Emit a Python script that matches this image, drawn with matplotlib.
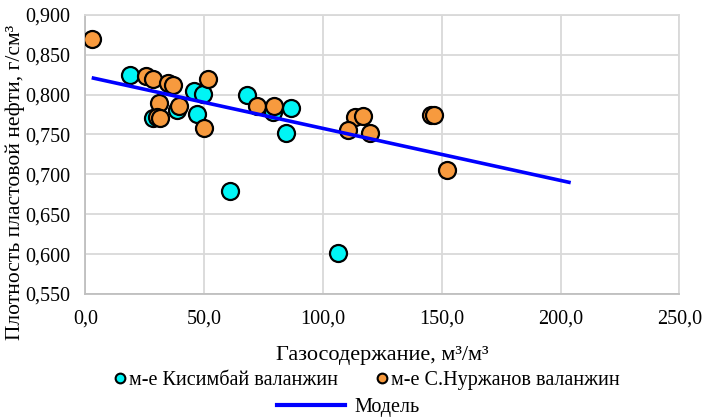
import matplotlib
matplotlib.use("Agg")
import matplotlib.pyplot as plt
from matplotlib.ticker import FuncFormatter, MultipleLocator
from matplotlib.lines import Line2D

plt.rcParams['font.family'] = ['Liberation Serif', 'DejaVu Serif']

# Data
kis_x = [18.9, 28.4, 38.5, 45.9, 49.7, 47.2, 60.9, 67.9, 79.1, 86.4, 84.6, 106.2]
kis_y = [0.824, 0.770, 0.780, 0.804, 0.801, 0.775, 0.679, 0.799, 0.778, 0.783, 0.752, 0.602]

nur_x = [2.9, 25.5, 28.4, 34.9, 37.0, 31.0, 30.3, 31.5, 39.6, 51.8, 50.0,
         72.1, 79.3, 113.5, 117.0, 110.7, 119.8, 145.5, 146.8, 152.4]
nur_y = [0.869, 0.823, 0.819, 0.814, 0.812, 0.789, 0.772, 0.771, 0.786, 0.820, 0.758,
         0.786, 0.786, 0.772, 0.773, 0.756, 0.752, 0.774, 0.774, 0.705]

model_x = [2.7, 204.3]
model_y = [0.821, 0.6895]

series_names = ["м-е Кисимбай валанжин", "м-е С.Нуржанов валанжин", "Модель"]
xlabel = "Газосодержание, м³/м³"
ylabel = "Плотность пластовой нефти, г/см³"

cyan = '#00f5f5'
orange = '#f79a3e'
blue = '#0000ff'
grid_c = '#d9d9d9'

fig = plt.figure(figsize=(7.03, 4.20), dpi=100)
ax = fig.add_axes([85.3/703, 1-294/420, (679.3-85.3)/703, (294-14.7)/420])

ax.scatter(kis_x, kis_y, s=150, c=cyan, edgecolors='black', linewidths=1.6, zorder=3)
ax.scatter(nur_x, nur_y, s=150, c=orange, edgecolors='black', linewidths=1.6, zorder=4)
ax.plot(model_x, model_y, color=blue, lw=2.6, zorder=5, solid_capstyle='butt')

ax.set_xlim(0, 250)
ax.set_ylim(0.55, 0.90)
ax.xaxis.set_major_locator(MultipleLocator(50))
ax.yaxis.set_major_locator(MultipleLocator(0.05))
ax.xaxis.set_major_formatter(FuncFormatter(lambda v, p: f"{v:.1f}".replace('.', ',')))
ax.yaxis.set_major_formatter(FuncFormatter(lambda v, p: f"{v:.3f}".replace('.', ',')))
ax.grid(True, color=grid_c, lw=1.3, zorder=0)
ax.set_axisbelow(True)
for sp in ax.spines.values():
    sp.set_color(grid_c)
    sp.set_linewidth(1.3)
ax.spines['left'].set_color('#bfbfbf')
ax.spines['bottom'].set_color('#bfbfbf')
ax.tick_params(length=0, labelsize=14.5, pad=11)

ax.set_xlabel(xlabel, fontsize=16, labelpad=13)
ax.set_ylabel(ylabel, fontsize=15.5)
ax.yaxis.set_label_coords(-60/594, 0.40)

h1 = Line2D([], [], ls='none', marker='o', ms=7, mfc=cyan, mec='black', mew=1.5)
h2 = Line2D([], [], ls='none', marker='o', ms=7, mfc=orange, mec='black', mew=1.5)
h3 = Line2D([], [], color=blue, lw=3)
fig.legend([h1, h2], series_names[:2], loc='center', bbox_to_anchor=(0.522, 1-380/420),
           ncol=2, frameon=False, fontsize=14.5, handlelength=0.6, handletextpad=0.15,
           columnspacing=1.9, borderpad=0)
fig.legend([h3], series_names[2:], loc='center', bbox_to_anchor=(0.495, 1-407/420),
           frameon=False, fontsize=14.5, handlelength=3.4, handletextpad=0.45, borderpad=0)

fig.savefig('out.png', dpi=100)
